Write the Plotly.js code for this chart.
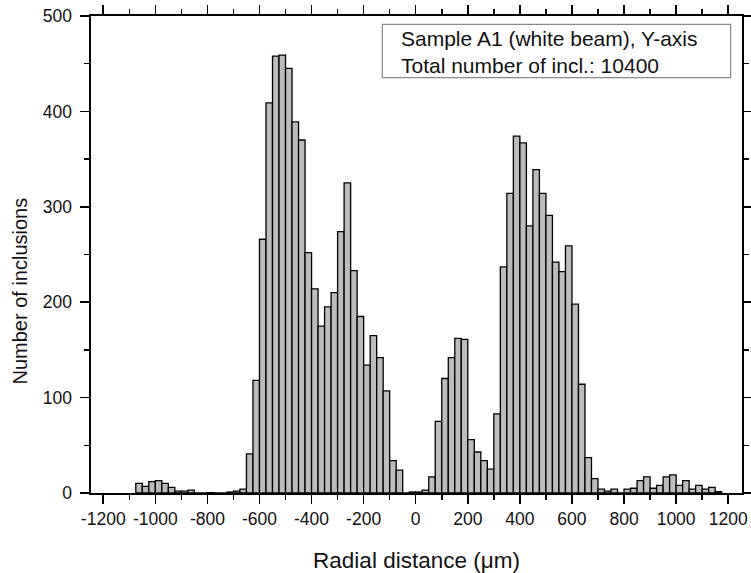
<!DOCTYPE html>
<html>
<head>
<meta charset="utf-8">
<script src="https://cdn.plot.ly/plotly-3.0.1.min.js"></script>
<style>html,body{margin:0;padding:0;background:#fff;}#chart{width:751px;height:573px;}</style>
</head>
<body>
<div id="chart"></div>
<script>
// bin centres (µm), bin width 25 µm
const binCenters = [
  -1062.5, -1037.5, -1012.5, -987.5, -962.5, -937.5, -912.5, -887.5, -862.5, -837.5,
  -812.5, -787.5, -762.5, -737.5, -712.5, -687.5, -662.5, -637.5, -612.5, -587.5,
  -562.5, -537.5, -512.5, -487.5, -462.5, -437.5, -412.5, -387.5, -362.5, -337.5,
  -312.5, -287.5, -262.5, -237.5, -212.5, -187.5, -162.5, -137.5, -112.5, -87.5,
  -62.5, -37.5, -12.5, 12.5, 37.5, 62.5, 87.5, 112.5, 137.5, 162.5,
  187.5, 212.5, 237.5, 262.5, 287.5, 312.5, 337.5, 362.5, 387.5, 412.5,
  437.5, 462.5, 487.5, 512.5, 537.5, 562.5, 587.5, 612.5, 637.5, 662.5,
  687.5, 712.5, 737.5, 762.5, 787.5, 812.5, 837.5, 862.5, 887.5, 912.5,
  937.5, 962.5, 987.5, 1012.5, 1037.5, 1062.5, 1087.5, 1112.5, 1137.5, 1162.5
];
const counts = [
  10, 7, 12, 13, 10, 6, 2, 2, 3, 0,
  0, 0.4, 0, 0, 1, 2, 4, 41, 118, 266,
  409, 458, 459, 445, 389, 370, 252, 214, 175, 195,
  210, 274, 325, 233, 185, 134, 165, 142, 107, 34,
  24, 0, 1, 1, 3, 17, 75, 120, 142, 162,
  161, 56, 43, 34, 25, 83, 237, 314, 374, 367,
  280, 339, 314, 291, 242, 232, 259, 198, 114, 37,
  15, 4, 2, 4, 0, 4, 5, 13, 17, 5,
  8, 17, 19, 8, 13, 4, 8, 4, 6, 1.5
];
const xTickVals = [-1200, -1000, -800, -600, -400, -200, 0, 200, 400, 600, 800, 1000, 1200];
const yTickVals = [0, 100, 200, 300, 400, 500];
const legendLines = ["Sample A1 (white beam), Y-axis", "Total number of incl.: 10400"];
const xTitle = 'Radial distance (\u03bcm)';
const yTitle = 'Number of inclusions';

const trace = {
  type: 'bar',
  x: binCenters,
  y: counts,
  width: 25,
  marker: {color: '#bcbcbc', line: {color: '#000', width: 1.3}},
  hoverinfo: 'x+y'
};

const fontFam = 'Liberation Sans, Arial, sans-serif';
const layout = {
  width: 751, height: 573,
  margin: {l: 91, r: 9, t: 16, b: 80},
  paper_bgcolor: '#fff', plot_bgcolor: '#fff',
  showlegend: false,
  bargap: 0,
  font: {family: fontFam, color: '#111', size: 17},
  xaxis: {
    range: [-1247, 1253],
    tickvals: xTickVals,
    ticktext: xTickVals.map(String),
    ticks: 'outside', ticklen: 9, tickwidth: 1.5, tickcolor: '#000',
    minor: {dtick: 100, tick0: -1200, ticks: 'outside', ticklen: 5, tickwidth: 1.5, tickcolor: '#000', showgrid: false},
    showline: true, linecolor: '#000', linewidth: 1.6, mirror: 'ticks',
    showgrid: false, zeroline: false,
    tickfont: {size: 17.5, family: fontFam, color: '#111'},
    title: {text: xTitle, font: {size: 22.5, family: fontFam, color: '#111'}, standoff: 24}
  },
  yaxis: {
    range: [0, 500],
    tickvals: yTickVals,
    ticks: 'outside', ticklen: 9, tickwidth: 1.5, tickcolor: '#000',
    minor: {dtick: 50, tick0: 0, ticks: 'outside', ticklen: 5, tickwidth: 1.5, tickcolor: '#000', showgrid: false},
    showline: true, linecolor: '#000', linewidth: 1.6, mirror: 'ticks',
    showgrid: false, zeroline: false,
    ticklabelstandoff: 5,
    tickfont: {size: 17.5, family: fontFam, color: '#111'}
  },
  shapes: [{
    type: 'rect', xref: 'paper', yref: 'paper',
    x0: 0.4475, x1: 0.9826, y0: 0.8707, y1: 0.9826,
    line: {color: '#888', width: 1.2}, fillcolor: 'rgba(255,255,255,1)'
  }],
  annotations: legendLines.map((t, i) => ({
    xref: 'paper', yref: 'paper', x: 0.4736, y: 0.9532 - i * 0.056,
    xanchor: 'left', yanchor: 'middle', showarrow: false,
    text: t, font: {size: 21, family: fontFam, color: '#111'}
  })).concat([{
    xref: 'paper', yref: 'paper', x: -0.1098, y: 0.4235,
    xanchor: 'center', yanchor: 'middle', showarrow: false, textangle: -90,
    text: yTitle, font: {size: 20, family: fontFam, color: '#111'}
  }])
};

Plotly.newPlot('chart', [trace], layout, {displayModeBar: false, staticPlot: true});
</script>
</body>
</html>
